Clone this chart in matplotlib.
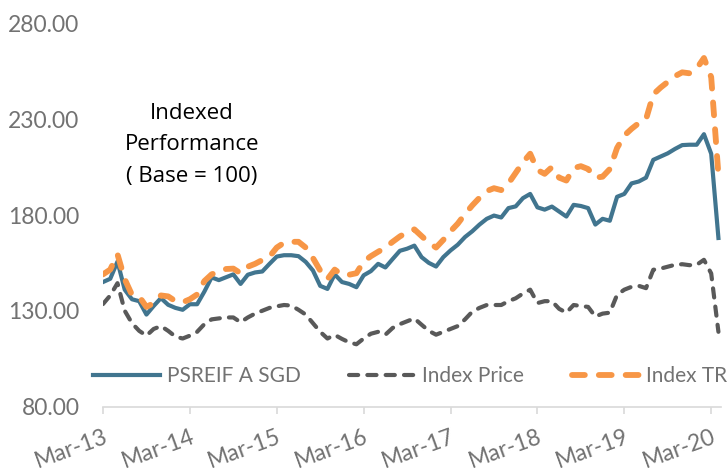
import numpy as np
import matplotlib
matplotlib.use("Agg")
from matplotlib import pyplot as plt

# monthly values, Mar-13 .. Apr-20
psreif = [145, 146.7, 155.7, 141, 136, 135, 128, 132.5, 136.6, 133.1,
          131.5, 130.5, 133.4, 133.4, 140, 147.4, 146, 147.5, 149, 144,
          148.8, 150, 150.5, 154.5, 158.3, 159, 159, 158.5, 155.5, 151,
          143, 141.4, 149, 145, 144, 142.3, 148.5, 150.7, 154.5, 152.6,
          157, 161.3, 162.4, 164, 158, 155, 153.1, 158, 161.5, 164.5,
          168.5, 171.5, 175, 178, 179.7, 178.7, 183.6, 184.5, 188.8, 191,
          184, 182.8, 184.4, 181.8, 179.2, 185.3, 184.7, 183.6, 175, 178,
          177, 189.5, 191, 196.5, 197.5, 199.5, 208.8, 210.5, 212.2, 214.5,
          216.5, 216.7, 216.7, 222.2, 212, 168]

index_price = [133.5, 138, 144.4, 130, 123.5, 119.5, 117, 120.5, 122, 119.5,
               116.5, 115.5, 117, 119, 123, 125.5, 126, 126.5, 126.5, 124,
               126.5, 128.5, 130, 131.5, 132.3, 133, 132.7, 130.5, 128, 123.5,
               119, 115.5, 117.4, 115.3, 113.5, 112.5, 115.5, 118, 119, 117.5,
               121, 123, 124.5, 126, 122.7, 119.5, 117.5, 119, 120.5, 122,
               125.5, 129.5, 131.5, 133, 133, 133, 135, 136.5, 139, 141,
               134, 135, 135, 131, 129, 133, 132.5, 132, 127, 128.5,
               129, 138.3, 141, 142.5, 143, 141.8, 151.4, 152, 153, 154,
               154.3, 153.8, 154, 156.6, 149.5, 119]

index_tr = [149, 151.5, 159.5, 146.5, 138.3, 137.4, 132, 134, 138, 137.5,
            135, 134.4, 136, 138.5, 145.5, 149, 150.5, 151.8, 152, 149.6,
            153, 154.5, 156.5, 158.3, 163, 165.5, 166, 166, 163, 157.5,
            151, 146.5, 151.5, 148.8, 148.8, 149.6, 155.7, 158.5, 160.8, 163,
            166, 168.8, 171, 172.5, 169, 165.5, 163, 167, 171.5, 175.5,
            180.5, 185, 189, 192.5, 194, 193, 196.5, 202, 207.5, 212,
            203.5, 201.5, 205, 199.5, 198, 204.5, 205.5, 204, 199.5, 200,
            204, 215, 221.5, 225, 228, 230, 243, 246.5, 249.5, 252.5,
            254.5, 254, 256.5, 262, 252, 201]

tick_labels = ["Mar-13", "Mar-14", "Mar-15", "Mar-16", "Mar-17",
               "Mar-18", "Mar-19", "Mar-20"]
y_ticks = [80, 130, 180, 230, 280]

blue = "#41758F"
grey = "#595959"
label_grey = "#727272"
orange = "#F79646"

plt.rcParams["font.family"] = ["Lato", "DejaVu Sans"]

fig = plt.figure(figsize=(7.28, 4.72), dpi=100)
ax = fig.add_axes([103 / 728, 65.5 / 472, 617.6 / 728, 383 / 472])

x = np.arange(len(psreif))
ax.plot(x, psreif, color=blue, lw=3.0, solid_joinstyle="round",
        label="PSREIF A SGD")
ax.plot(x, index_price, color=grey, lw=3.0, dashes=(2.2, 2.2),
        dash_capstyle="round", label="Index Price")
ax.plot(x, index_tr, color=orange, lw=4.2, dashes=(2.2, 2.4),
        dash_capstyle="round", label="Index TR")

ax.set_xlim(0, 85.3)
ax.set_ylim(80, 280)
ax.set_yticks(y_ticks)
ax.set_yticklabels(["%.2f" % v for v in y_ticks])
ax.set_xticks(np.arange(0, 85, 12))
ax.set_xticklabels(tick_labels, rotation=20, ha="right",
                   rotation_mode="anchor")

for s in ["left", "right", "top"]:
    ax.spines[s].set_visible(False)
ax.spines["bottom"].set_color("#D9D9D9")
ax.spines["bottom"].set_linewidth(1.2)
ax.tick_params(axis="y", length=0, pad=17, labelsize=16.5,
               labelcolor=label_grey)
ax.tick_params(axis="x", length=5, width=1.2, color="#D9D9D9", pad=9,
               labelsize=16.5, labelcolor=label_grey)

fig.text(192 / 728, 1 - 145 / 472, "Indexed\nPerformance\n( Base = 100)",
         ha="center", va="center", fontsize=16, color="black",
         linespacing=1.65, family=["Open Sans", "DejaVu Sans"])

leg = fig.legend(loc="center left", bbox_to_anchor=(93 / 728, 1 - 376 / 472),
                 ncol=3, frameon=False, fontsize=15, borderpad=0,
                 borderaxespad=0, handlelength=3.2, handletextpad=0.34,
                 columnspacing=2.3)
for t in leg.get_texts():
    t.set_color(label_grey)

fig.savefig("out.png", dpi=100)
